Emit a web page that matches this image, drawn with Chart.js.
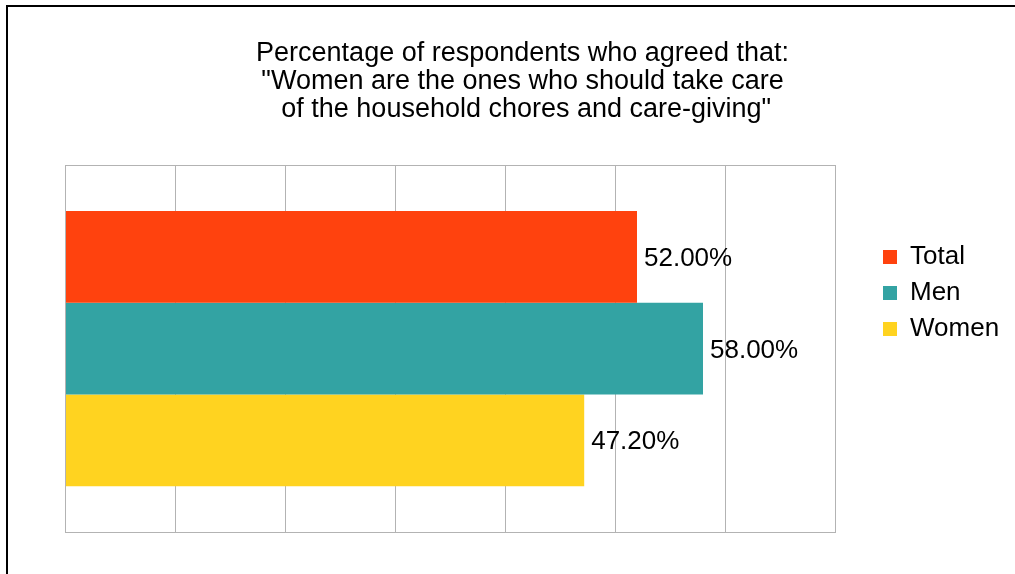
<!DOCTYPE html>
<html>
<head>
<meta charset="utf-8">
<script src="https://cdn.jsdelivr.net/npm/chart.js@4.4.1/dist/chart.umd.min.js"></script>
<style>
    html, body { margin: 0; padding: 0; background: #ffffff; }
    #wrap { position: relative; width: 1015px; height: 574px; overflow: hidden; }
    #frame { position: absolute; left: 6px; top: 5px; width: 1200px; height: 800px;
        border-left: 2px solid #000000; border-top: 2px solid #000000; pointer-events: none; }
    canvas { position: absolute; left: 0; top: 0; }
</style>
</head>
<body>
<div id="wrap">
    <canvas id="chart" width="1015" height="574"></canvas>
    <div id="frame"></div>
</div>
<script>
const TITLE_LINES = [
    "Percentage of respondents who agreed that:",
    "\"Women are the ones who should take care",
    " of the household chores and care-giving\""
];
const CATEGORIES = [""];
const SERIES_NAMES = ["Total", "Men", "Women"];
const TOTAL_VALUES = [52.0];
const MEN_VALUES = [58.0];
const WOMEN_VALUES = [47.2];
const SERIES_COLORS = ["#ff420e", "#33a3a3", "#ffd320"];
const AXIS_MAX = 70,
    AXIS_STEP = 10,
    GRID_COLOR = "#b3b3b3",
    FONT_FAMILY = "'Liberation Sans', Arial, sans-serif",
    TEXT_COLOR = "#000000",
    LEGEND_WIDTH = 180,
    LEGEND_SHIFT_X = 38,
    LEGEND_SHIFT_Y = 27;

const valueLabels = {
    id: "valueLabels",
    afterDatasetsDraw(chart) {
        const ctx = chart.ctx;
        ctx.save();
        ctx.font = "26px " + FONT_FAMILY;
        ctx.fillStyle = TEXT_COLOR;
        ctx.textBaseline = "middle";
        ctx.textAlign = "left";
        chart.data.datasets.forEach((ds, i) => {
            chart.getDatasetMeta(i).data.forEach((bar, j) => {
                ctx.fillText(ds.data[j].toFixed(2) + "%", bar.x + 7, bar.y + 2);
            });
        });
        ctx.restore();
    }
};

const areaBorder = {
    id: "areaBorder",
    afterDraw(chart) {
        const a = chart.chartArea, ctx = chart.ctx;
        ctx.save();
        ctx.strokeStyle = GRID_COLOR;
        ctx.lineWidth = 1;
        ctx.strokeRect(Math.round(a.left) + 0.5, Math.round(a.top) + 0.5,
            Math.round(a.right - a.left), Math.round(a.bottom - a.top));
        ctx.restore();
    }
};

// fixed legend width so the plot ends where the reference does
const legendPlacement = {
    id: "legendPlacement",
    beforeLayout(chart) {
        const legend = chart.legend;
        if (!legend || legend.fitPatched) {
            return;
        }
        const fit = legend.fit;
        legend.fit = function () {
            fit.call(this);
            this.width = LEGEND_WIDTH;
        };
        legend.fitPatched = true;
    },
    afterLayout(chart) {
        chart.legend.left += LEGEND_SHIFT_X;
        chart.legend.top += LEGEND_SHIFT_Y;
        chart.legend.bottom += LEGEND_SHIFT_Y;
    }
};

const values = [TOTAL_VALUES, MEN_VALUES, WOMEN_VALUES];

new Chart(document.getElementById("chart"), {
    type: "bar",
    data: {
        labels: CATEGORIES,
        datasets: SERIES_NAMES.map((name, i) => ({
            label: name,
            data: values[i],
            backgroundColor: SERIES_COLORS[i],
            borderWidth: 0,
            barPercentage: 1,
            categoryPercentage: 0.75,
        })),
    },
    options: {
        indexAxis: "y",
        responsive: false,
        animation: false,
        layout: {
            padding: { left: 30, right: 0, top: 0, bottom: 42 },
        },
        plugins: {
            tooltip: { enabled: false },
            title: {
                display: true,
                text: TITLE_LINES,
                color: TEXT_COLOR,
                font: { family: FONT_FAMILY, size: 27, weight: "normal", lineHeight: 28 / 27 },
                padding: { top: 40, bottom: 41 },
            },
            legend: {
                position: "right",
                labels: {
                    color: TEXT_COLOR,
                    boxWidth: 14,
                    boxHeight: 14,
                    padding: 10,
                    font: { family: FONT_FAMILY, size: 26 },
                },
            },
        },
        scales: {
            x: {
                min: 0,
                max: AXIS_MAX,
                ticks: { display: false, stepSize: AXIS_STEP },
                grid: { color: GRID_COLOR, drawTicks: false },
                border: { display: false },
                afterFit(axis) { axis.height = 0; },
            },
            y: {
                ticks: { display: false },
                grid: { display: false, drawTicks: false },
                border: { display: false },
                afterFit(axis) { axis.width = 35; },
            },
        },
    },
    plugins: [valueLabels, areaBorder, legendPlacement],
});
</script>
</body>
</html>
